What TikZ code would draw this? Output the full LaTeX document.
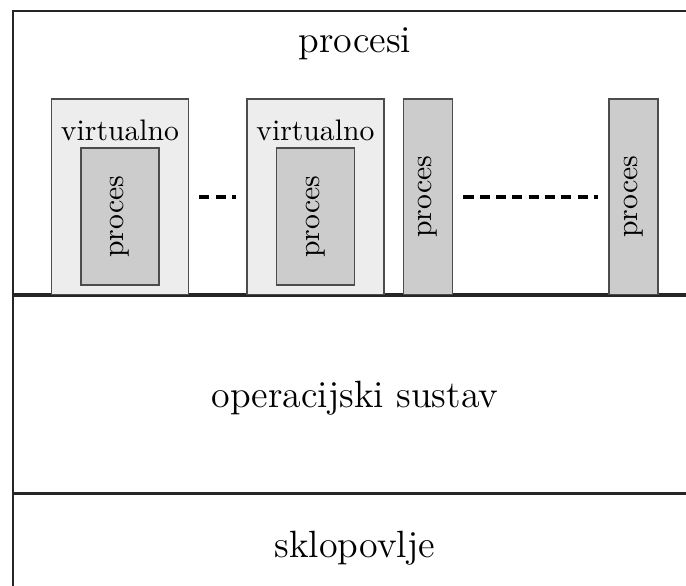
\documentclass[tikz,border=0pt]{standalone}
\usetikzlibrary{positioning}

\begin{document}
\begin{tikzpicture}[
    layer/.style={draw=black!85, line width=0.55pt, minimum width=81mm, inner sep=0pt},
    lbl/.style={font=\fontsize{12.8}{15}\selectfont},
    virt/.style={draw=black!70, fill=black!7, line width=0.5pt, minimum width=16.2mm, minimum height=23.1mm, inner sep=0pt},
    proc/.style={draw=black!70, fill=black!20, line width=0.5pt, minimum width=9.2mm, minimum height=16.2mm, inner sep=0pt},
    solo/.style={proc, minimum width=5.8mm, minimum height=23.1mm},
    gap/.style={line width=1.35pt, dash pattern=on 3.4pt off 2.1pt},
]
\useasboundingbox (-1.42mm,-34.34mm) rectangle (79.8mm,34.93mm);

% ---- Layers ---------------------------------------------------------
\node[layer, minimum height=33.5mm, anchor=south west] (Lproc) at (0,0) {};
\node[layer, minimum height=23.3mm, anchor=north west] (Los) at (Lproc.south west) {};
\node[layer, minimum height=12.7mm, anchor=north west] (Lhw) at (Los.south west) {};

\node[lbl] (tproc) at ([yshift=-3.9mm]Lproc.north) {procesi};
\node[lbl] (tos) at ([yshift=-0.45mm]Los.center) {operacijski sustav};
\node[lbl] (thw) at (Lhw.center) {sklopovlje};

% ---- Processes ------------------------------------------------------
\node[virt, anchor=south west] (v1) at (4.6mm,0) {};
\node[virt, right=6.76mm of v1] (v2) {};
\node[solo, right=2.16mm of v2] (s1) {\rotatebox{90}{proces}};
\node[solo, right=18.36mm of s1] (s2) {\rotatebox{90}{proces}};

\node[proc, above=1.1mm of v1.south] (p1) {\rotatebox{90}{proces}};
\node[proc, above=1.1mm of v2.south] (p2) {\rotatebox{90}{proces}};
\node (t1) at ([yshift=-3.8mm]v1.north) {virtualno};
\node (t2) at ([yshift=-3.8mm]v2.north) {virtualno};

% ---- Gaps -----------------------------------------------------------
\draw[gap] ([xshift=1.2mm]v1.east) -- ([xshift=-1.2mm]v2.west);
\draw[gap] ([xshift=1.2mm]s1.east) -- ([xshift=-1.2mm]s2.west);

\end{tikzpicture}
\end{document}
